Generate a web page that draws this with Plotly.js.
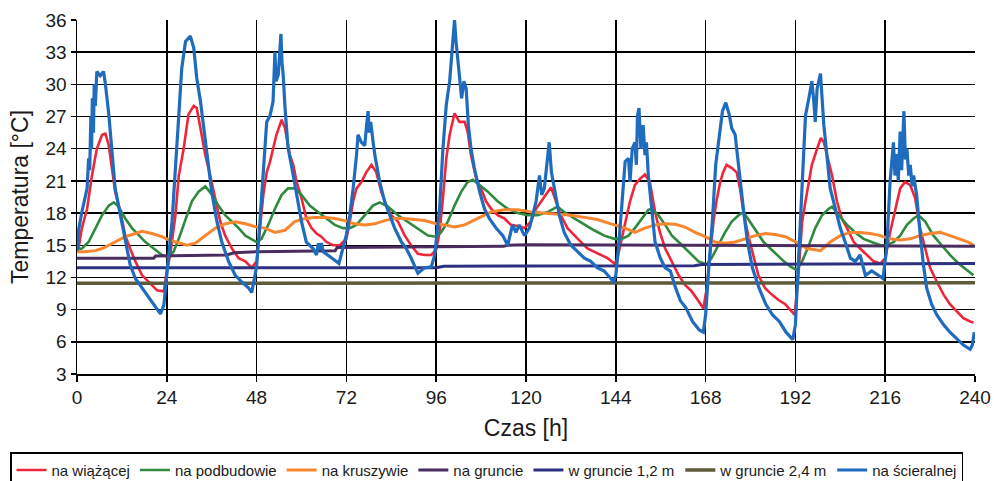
<!DOCTYPE html>
<html>
<head>
<meta charset="utf-8">
<script src="https://cdn.plot.ly/plotly-3.0.1.min.js"></script>
<style>html,body{margin:0;padding:0;background:#fff;}#chart{width:994px;height:481px;}</style>
</head>
<body>
<div id="chart"></div>
<script>
// ---- Data (hours, temperatures °C) ----
const seriesNames = ["na wiążącej", "na podbudowie", "na kruszywie", "na gruncie", "w gruncie 1,2 m", "w gruncie 2,4 m", "na ścieralnej"];
const xTicks = [0, 24, 48, 72, 96, 120, 144, 168, 192, 216, 240];
const yTicks = [3, 6, 9, 12, 15, 18, 21, 24, 27, 30, 33, 36];

// na wiążącej (red)
const wiazacaH = [0,0.4,1.3,2.7,4,5.3,6.7,7.6,8.5,9.4,10.2,11.6,12.9,14.2,15.6,17.4,19.1,21.4,23.2,24,24.9,26.3,27.2,28.5,29.8,31.2,32,33.4,34.3,35.6,37,38.3,39.6,41.4,43.2,45,46.7,48,48.9,49.8,50.7,51.6,52.4,53.3,54.7,55.6,56.9,57.8,58.7,60,61.3,62.7,64,65.3,66.7,68.4,70.2,72,72.9,73.8,74.7,76,77.3,78.7,80,81.3,82.7,84,85.8,87.6,89.3,91.1,92.9,94.7,96,96.9,97.8,98.7,99.6,100.9,102.2,103.6,104.4,105.3,106.7,108,109.3,110.7,112.4,114.2,116,117.8,119.6,121.3,122.7,124,125.3,126.7,128,129.3,131.1,132.9,134.7,136.4,138.2,140,141.8,143.6,144.3,145.2,146.5,147.8,149.1,150.5,151.8,153.1,154.5,155.8,157.2,159,160.8,162.5,164.3,166.1,167.4,168.3,169.2,170.1,170.9,171.9,172.7,173.6,175,176.3,177.2,178.1,179.4,180.8,182.1,183.9,185.7,187.5,189.3,191.1,191.8,192.8,193.8,194.7,195.6,196.4,197.8,198.8,199.6,200.4,201.8,203.1,204.4,205.8,207.6,209.3,211.1,212.9,214.7,216,217.3,218.7,220,221.3,222.7,224,225.3,226.7,228,229.8,231.6,233.3,235.1,236.9,238.7,239.6];
const wiazacaT = [14.5,14.7,16.6,18.4,21.5,24,25.3,25.4,24.3,21.8,20,18.1,15.9,14.7,13.5,12.2,11.6,10.8,10.7,12.6,14.1,17.8,21.5,24,27.2,28,27.8,25,23.4,21.5,19.1,17.2,15.9,14.7,13.8,13.5,12.9,13.5,16.6,19.7,21.8,22.8,24,25.3,26.7,25.9,23.4,22.5,20.9,19.4,17.5,16.6,16.1,15.8,15.3,15,15,15.6,17.2,19.1,20.3,20.9,21.8,22.5,21.8,20,18.7,17.8,17.2,15.9,15,14.2,14.1,14.1,14.6,16.2,19.4,23.1,25.3,27.3,26.5,26.5,25.6,23.4,21.2,20.3,19.1,18.4,17.8,17.5,16.9,16.8,16.6,17.2,18.4,19.1,19.7,20.4,19.1,17.8,16.6,15.9,15.3,14.7,14.4,14.1,13.8,13.3,13.6,15,17.2,19.1,20.6,21.2,21.6,20.9,18.1,16.2,14.7,13.5,12.2,11.3,10.7,9.8,9.1,11,14.1,17.2,19.1,20.9,21.8,22.5,22.2,21.8,20.3,18.1,15.9,14.1,12.2,11,10.4,9.9,9.5,8.8,8.5,12.2,17.2,19.1,20.9,22.5,24,25,24.6,23.4,21.5,19.1,17.5,16.6,15.3,14.7,14.1,13.5,13.3,13.8,16.2,18.4,20.3,20.9,20.6,19.4,16.6,14.7,12.9,11.6,10.4,9.5,8.8,8.2,7.9,7.8];

// na podbudowie (green)
const podbudowaH = [0,1.3,3.1,4.9,6.7,8.5,9.8,11.1,12.9,14.7,16.5,18.3,20.5,22.7,24.5,25.8,27.2,29,30.7,32.5,34.3,36.1,37.8,39.6,41.4,43.2,45,46.7,48,49.3,51.1,52.9,54.7,56.4,58.2,60,62.2,64.4,66.7,68.9,71.1,72.9,74.7,76.9,79.1,80.9,83.1,85.8,88.4,91.1,93.8,96,97.3,99.1,100.9,102.7,104.4,105.8,107.6,109.8,112.4,115.1,117.8,120.4,123.1,125.8,128.4,130.2,132.9,135.6,138.2,140.9,143.6,145.6,147.4,149.1,150.9,152.7,153.6,155.4,157.2,159,160.8,162.5,164.3,166.1,168.3,169.6,171.4,173.2,175,176.8,178.1,179.9,181.7,183.5,185.3,187.1,188.9,190.7,192.3,193.8,195.6,197.3,199.1,200.9,201.8,203.6,205.8,208,210.2,212.4,214.7,216.4,218.2,220,221.8,223.6,224.9,226.7,228.9,231.1,233.3,235.6,237.8,239.6];
const podbudowaT = [14.6,14.7,15.3,16.6,17.8,18.7,19,18.6,17.5,16.6,15.9,15.3,14.7,14.1,13.9,14.4,15.6,17.5,19.1,20,20.5,19.7,18.7,17.8,17.2,16.6,15.9,15.6,15.3,15.6,16.9,18.4,19.7,20.3,20.3,19.7,18.7,18.1,17.5,16.9,16.6,16.6,16.9,17.8,18.7,19,18.6,17.8,17.2,16.6,15.9,15.8,16.2,17.2,18.7,20,20.9,21.1,20.6,20,19.1,18.4,18,17.8,17.8,18.1,18.6,18.1,17.5,16.9,16.4,15.9,15.6,15.6,15.9,16.6,17.5,18.3,18.4,17.8,16.9,15.9,15.3,14.7,14.1,13.5,13.2,13.8,15,16.2,17.2,17.8,18.1,17.2,16.2,15.3,14.7,14.1,13.5,13,12.7,13.5,15,16.6,17.8,18.4,18.6,17.8,16.9,16.2,15.6,15.3,15,15,15.3,15.9,16.9,17.5,17.8,17.2,15.9,15,14.1,13.3,12.7,12.2];

// na kruszywie (orange)
const kruszywoH = [0,2.2,4.9,6.7,8.5,10.2,12.9,15.6,17.4,20,22.7,24.5,27.2,29.4,31.6,34.3,37,39.6,42.3,45,48,50.2,52.9,55.6,58.2,60.9,63.6,66.2,68.9,71.6,74.2,76.9,79.6,82.2,84.9,87.6,90.2,92.9,96,98.2,100.9,103.6,107.1,110.7,114.2,117.8,121.3,124.9,128.4,132,135.6,139.1,142.7,144.5,146.5,149.1,151.8,154.5,157.2,159.9,162.5,165.2,167.9,170.6,173.2,175.9,178.6,181.3,184,186.6,189.3,192.2,195.1,198.7,201.3,204,206.7,209.3,212,214.7,217.3,220,222.7,225.3,228,230.7,233.3,236,238.2,239.6];
const kruszywoT = [14.4,14.4,14.5,14.7,15,15.3,15.8,16.1,16.3,16.1,15.8,15.5,15.2,15,15.2,15.9,16.6,17,17.2,17,16.7,16.6,16.2,16.4,17.2,17.5,17.6,17.6,17.5,17.3,17,16.9,17,17.3,17.5,17.5,17.4,17.3,17,16.9,16.7,16.9,17.5,18.1,18.3,18.3,18.1,18,17.9,17.8,17.6,17.4,17,16.8,16.6,16.2,16.6,16.9,17,16.95,16.7,16.2,15.8,15.3,15.2,15.3,15.6,15.9,16.1,16,15.8,15.3,14.7,14.5,15.3,15.9,16.2,16.2,16.1,15.9,15.6,15.5,15.6,15.9,16.1,16.2,15.9,15.6,15.3,15];

// na gruncie (purple)
const gruntH = [0,20.5,21,40,42,48,69,69.5,114,115,120,192,240];
const gruntT = [13.8,13.8,14,14.1,14.3,14.4,14.5,14.8,14.9,15,15.05,15,14.9];

// w gruncie 1,2 m (navy)
const grunt12H = [0,96,98,165,167,192,240];
const grunt12T = [12.9,12.9,13.05,13.1,13.2,13.25,13.3];

// w gruncie 2,4 m (olive)
const grunt24H = [0,240];
const grunt24T = [11.45,11.5];

// na ścieralnej (blue)
const scieralnaH = [0,0.5,1.3,1.8,2.7,3.1,3.4,3.7,3.9,4.1,4.4,4.6,4.9,5.3,6.2,7.1,7.6,8.5,9.4,10.2,11.6,12.9,14.2,15.6,17.4,20,22.3,23.2,24,24.5,25.4,26.3,27.2,28,29,30.3,31.2,32,33,33.8,34.7,36,37.4,38.7,40.5,42.3,44,45.9,46.7,47.5,48,48.9,49.8,50.7,51.6,52.4,52.9,53.2,53.8,54.2,54.5,54.8,55.1,55.6,56.4,57.8,59.1,60,61.3,63.1,64,64.5,64.9,65.3,65.8,67.1,68.9,70,71.1,72,72.9,73.8,74.7,75.1,76,76.9,77.4,77.8,78.1,78.5,79,79.6,80.9,82.2,83.6,84.9,86.7,88,89.3,91.1,92.9,94.7,95.6,96.2,96.9,97.8,98.7,99.6,100.2,100.6,100.9,101.3,101.6,102.2,102.8,103.4,104,104.6,105.3,106.2,107.6,108.9,110.2,112,113.8,115.1,116.4,117.3,118.2,119.6,120.9,121.8,122.7,123.6,124.2,124.9,125.6,126.2,126.8,127.7,128.9,130.2,132,133.8,135.6,137.3,139.1,140.9,142.7,143.4,144,144.7,145.6,146.5,147.4,147.8,148.4,149.1,149.5,149.8,150.2,150.7,151.3,151.8,152.2,152.7,153.6,154.5,155.9,157.2,158.6,160,161.3,162.7,164.5,166.3,167.4,168,168.9,169.8,170.7,171.6,172.5,173.4,174.3,175,175.9,176.5,177.4,178.3,179.2,180.5,182.3,184.1,185.9,187.7,189.5,191.3,192,192.5,192.9,193.8,194.7,195.6,196.4,196.9,197.3,197.8,198.3,198.7,199.6,200.4,201.3,202.7,204,205.3,206.7,208,209.3,210.7,212.4,214.2,215.4,216.4,217.3,218.2,218.6,219.1,219.5,220,220.4,221,221.4,221.8,222.3,222.7,223.2,223.6,224.4,225.3,226.2,227.1,228.4,229.8,231.6,233.3,235.1,236.9,238.7,239.3,239.8];
const scieralnaT = [14.5,16.6,18.1,19,20.3,23.1,22,27,24,28.7,25.5,30,28,31.2,30.8,31.2,30,27.2,23.7,20.3,17.8,15.3,13.2,11.9,11,9.7,8.6,9.4,11.9,14,17.2,21.8,27.2,31.5,34,34.5,33.4,30.6,28.4,26.2,23.4,20,17.2,15.3,13.5,12.2,11.6,11,10.6,11.9,13,17.2,21.5,26.5,27.1,28.4,33,30.3,30.9,33.5,34.7,32,30.9,27.8,24.1,21.5,19.1,17.2,15.3,14.7,14.1,15.2,14.6,15.2,14.4,14.1,13.6,13.3,14.7,16,17.8,20.3,23.4,25.3,24.6,24.3,26.2,27.5,25.5,26.5,25,23.4,20.9,19.1,17.8,16.6,15.3,14.7,13.8,12.4,12.9,13,14.1,16,18.4,24,28.1,30.3,33.4,35.5,36,34,32.8,30.6,28.7,30.3,29.6,26.2,24,22.2,20,18.4,17.5,16.6,15.9,15,16.9,16.2,16.9,15.9,16.6,17.8,19.1,21.5,19.7,20.3,22.5,24.6,21.8,20,17.8,16.2,15,14.4,13.8,13.5,12.9,12.6,11.9,11.6,12.2,14.7,18.7,22.8,23.1,20.9,24,24.6,22.5,27.1,27.8,24,26.2,23.4,24.6,21.5,18.4,15.3,13.8,12.9,12.6,11,9.8,9.2,7.9,7.1,6.9,8.5,13.2,17.2,22.5,25.3,27.5,28.3,27.2,25.9,25.3,23.4,20.3,17.8,15.3,12.9,11,9.5,8.5,7.9,6.9,6.2,7.6,11,14.7,20.9,27.1,28.7,30.3,28.5,26.5,29.6,30.3,31,26.2,23.1,20.3,18.4,16.6,15.3,13.8,13.5,14.1,12.2,12.6,12.2,11.9,14.7,20.9,24.6,21.5,23.5,21,25.6,22,27.5,23,24,21.5,22.5,20.5,21.5,19.7,16.2,13.2,11,9.5,8.5,7.6,6.9,6.3,5.7,5.3,5.7,6.9];

const seriesH = [wiazacaH, podbudowaH, kruszywoH, gruntH, grunt12H, grunt24H, scieralnaH];
const seriesT = [wiazacaT, podbudowaT, kruszywoT, gruntT, grunt12T, grunt24T, scieralnaT];
const colors = ["#ef2639", "#2f8a3e", "#f7862f", "#4b2c5f", "#2d307f", "#5f5a3a", "#1f6cbf"];
const widths = [2.6, 2.6, 3, 3, 3, 3.5, 3.2];

const traces = seriesNames.map((name, i) => ({
  type: "scatter",
  mode: "lines",
  name: name,
  x: seriesH[i],
  y: seriesT[i],
  line: {color: colors[i], width: widths[i]},
  hoverinfo: "skip"
}));

const font = "Liberation Sans, Arial, sans-serif";
const layout = {
  width: 994,
  height: 481,
  margin: {l: 77, r: 19, t: 20, b: 107, autoexpand: false},
  paper_bgcolor: "#ffffff",
  plot_bgcolor: "#ffffff",
  font: {family: font, color: "#1a1a1a"},
  showlegend: true,
  legend: {
    orientation: "h",
    x: -0.0746,
    xanchor: "left",
    y: -0.221,
    yanchor: "top",
    bordercolor: "#000000",
    borderwidth: 1.5,
    bgcolor: "#ffffff",
    font: {family: font, size: 15, color: "#1a1a1a"},
    traceorder: "normal",
    itemwidth: 30
  },
  xaxis: {
    range: [0, 240],
    tickvals: xTicks,
    ticktext: xTicks.map(String),
    showgrid: true,
    gridcolor: "#000000",
    gridwidth: 1.5,
    zeroline: false,
    showline: true,
    linecolor: "#000000",
    linewidth: 1.5,
    ticks: "outside",
    ticklen: 6,
    tickwidth: 1.5,
    tickcolor: "#000000",
    tickfont: {family: font, size: 19, color: "#1a1a1a"},
    title: {text: "Czas [h]", font: {family: font, size: 23, color: "#1a1a1a"}, standoff: 12}
  },
  yaxis: {
    range: [3, 36],
    tickvals: yTicks,
    ticktext: yTicks.map(String),
    showgrid: true,
    gridcolor: "#000000",
    gridwidth: 1.5,
    zeroline: false,
    showline: true,
    linecolor: "#000000",
    linewidth: 1.5,
    ticks: "outside",
    ticklen: 5,
    tickwidth: 1.5,
    tickcolor: "#000000",
    tickfont: {family: font, size: 19, color: "#1a1a1a"},
    title: {text: "Temperatura [°C]", font: {family: font, size: 23, color: "#1a1a1a"}, standoff: 10}
  }
};

Plotly.newPlot("chart", traces, layout, {staticPlot: true, displayModeBar: false});
</script>
</body>
</html>
